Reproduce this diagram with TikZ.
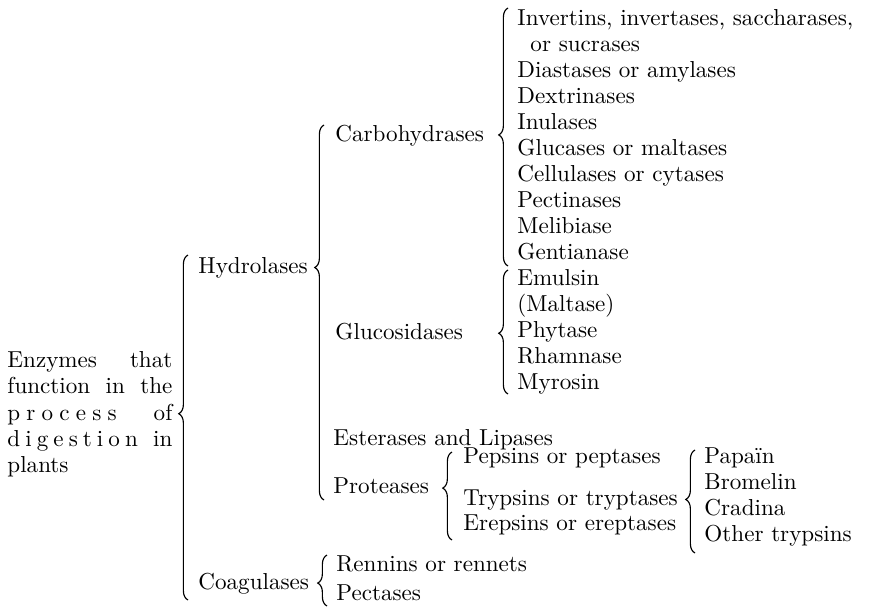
\documentclass[tikz,border=0pt]{standalone}
\usetikzlibrary{decorations.pathreplacing}
\begin{document}
\begin{tikzpicture}[x=0.433pt,y=-0.433pt,
  lbl/.style={inner sep=0pt, anchor=base west, font=\fontsize{10}{12}\selectfont},
  brc/.style={decorate, decoration={brace, amplitude=4pt, aspect=#1}, line width=0.5pt},
  brc/.default=0.5]
\useasboundingbox (0,0) rectangle (871,607);
% root text block
\node[lbl] (e1) at (7,367) {\makebox[71.4pt][s]{Enzymes\hfill that}};
\node[lbl] (e2) at (7,393) {\makebox[71.4pt][s]{function in the}};
\node[lbl] (e3) at (7,420) {\makebox[71.4pt][s]{p\hfill r\hfill o\hfill c\hfill e\hfill s\hfill s\hspace{0pt plus 6fill}of}};
\node[lbl] (e4) at (7,446) {\makebox[71.4pt][s]{d\hfill i\hfill g\hfill e\hfill s\hfill t\hfill i\hfill o\hfill n\hspace{0pt plus 3fill}in}};
\node[lbl] (e5) at (7,472) {plants};
% level 1
\node[lbl] (hyd) at (198,273) {Hydrolases};
\node[lbl] (coa) at (198,589) {Coagulases};
% level 2
\node[lbl] (car) at (335,141) {Carbohydrases};
\node[lbl] (glu) at (335,339) {Glucosidases};
\node[lbl] (est) at (333,445) {Esterases and Lipases};
\node[lbl] (pro) at (333,493) {Proteases};
% carbohydrases list
\node[lbl] (c1) at (517,25) {Invertins, invertases, saccharases,};
\node[lbl] (c1b) at (530,51) {or sucrases};
\node[lbl] (c2) at (517,77) {Diastases or amylases};
\node[lbl] (c3) at (517,103) {Dextrinases};
\node[lbl] (c4) at (517,129) {Inulases};
\node[lbl] (c5) at (517,155) {Glucases or maltases};
\node[lbl] (c6) at (517,181) {Cellulases or cytases};
\node[lbl] (c7) at (517,207) {Pectinases};
\node[lbl] (c8) at (517,233) {Melibiase};
\node[lbl] (c9) at (517,259) {Gentianase};
% glucosidases list
\node[lbl] (g1) at (517,285) {Emulsin};
\node[lbl] (g2) at (517,311) {(Maltase)};
\node[lbl] (g3) at (517,337) {Phytase};
\node[lbl] (g4) at (517,363) {Rhamnase};
\node[lbl] (g5) at (517,389) {Myrosin};
% proteases
\node[lbl] (p1) at (463,463) {Pepsins or peptases};
\node[lbl] (p2) at (463,505) {Trypsins or tryptases};
\node[lbl] (p3) at (463,530) {Erepsins or ereptases};
% trypsins
\node[lbl] (t1) at (704,463) {Papa\"{\i}n};
\node[lbl] (t2) at (704,489) {Bromelin};
\node[lbl] (t3) at (704,515) {Cradina};
\node[lbl] (t4) at (704,541) {Other trypsins};
% coagulases
\node[lbl] (r1) at (336,571) {Rennins or rennets};
\node[lbl] (r2) at (336,600) {Pectases};
% braces
\coordinate (b1t) at (188,255); \coordinate (b1b) at (188,600);
\draw[brc=0.54] (b1b) -- (b1t);
\coordinate (b2t) at (324,125); \coordinate (b2b) at (324,500);
\draw[brc=0.62] (b2b) -- (b2t);
\coordinate (b3t) at (508,8); \coordinate (b3b) at (508,266);
\draw[brc=0.508] (b3b) -- (b3t);
\coordinate (b4t) at (508,270); \coordinate (b4b) at (508,394);
\draw[brc=0.49] (b4b) -- (b4t);
\coordinate (b5t) at (452,452); \coordinate (b5b) at (452,540);
\draw[brc=0.59] (b5b) -- (b5t);
\coordinate (b6t) at (695,450); \coordinate (b6b) at (695,553);
\draw[brc=0.52] (b6b) -- (b6t);
\coordinate (b7t) at (327,555); \coordinate (b7b) at (327,606);
\draw[brc=0.45] (b7b) -- (b7t);
\end{tikzpicture}
\end{document}
